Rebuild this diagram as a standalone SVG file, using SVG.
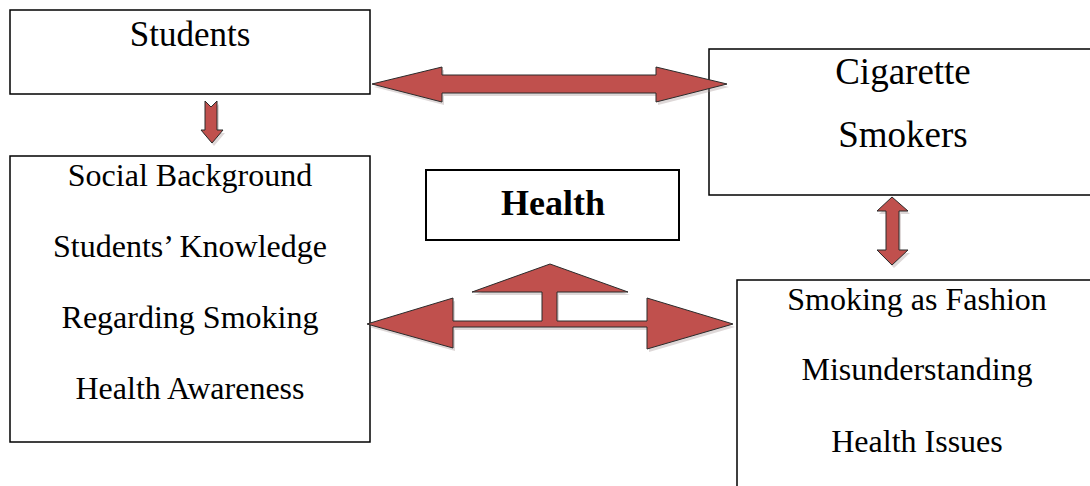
<svg xmlns="http://www.w3.org/2000/svg" width="1090" height="486" viewBox="0 0 1090 486">
<style>
.box{fill:#fff;stroke:#000;stroke-width:1.5}
.arrow{fill:#c0504d;stroke:#2b2b2b;stroke-width:1}
.shadow{fill:#a09090;opacity:0.35;stroke:none}
text{font-family:'Times New Roman','Liberation Serif',Tinos,serif;fill:#000;text-anchor:middle}
</style>
<defs>
<path id="a1" d="M372,84 L442,67 L442,75 L656,75 L656,67 L727,84 L656,102 L656,93 L442,93 L442,102 Z"/>
<path id="a2" d="M205,101 L211,107 L217,101 L217,130 L223,130 L212,143 L201,130 L205,130 Z"/>
<path id="a3" d="M892,197 L908,211 L899,211 L899,250 L908,250 L892,265 L877,250 L886,250 L886,211 L877,211 Z"/>
<path id="a4" d="M367,324 L453,298 L453,321 L542,321 L542,292 L472,292 L550,264 L628,292 L557,292 L557,321 L647,321 L647,298 L733,324 L647,349 L647,327 L453,327 L453,348 Z"/>
</defs>
<rect width="1090" height="486" fill="#fff"/>
<g id="students">
<rect class="box" x="10" y="10" width="360" height="84"/>
<text x="190" y="46" font-size="35">Students</text>
</g>
<g id="cigarette">
<rect class="box" x="709" y="49" width="390" height="146"/>
<text x="903" y="84" font-size="37">Cigarette</text>
<text x="903" y="147" font-size="37">Smokers</text>
</g>
<g id="social">
<rect class="box" x="10" y="156" width="360" height="286"/>
<text x="190" y="186" font-size="32">Social Background</text>
<text x="190" y="257" font-size="32">Students’ Knowledge</text>
<text x="190" y="328" font-size="32">Regarding Smoking</text>
<text x="190" y="399" font-size="32">Health Awareness</text>
</g>
<g id="health">
<rect x="426" y="170" width="253" height="70" fill="#fff" stroke="#000" stroke-width="2"/>
<text x="553" y="215" font-size="36" font-weight="bold">Health</text>
</g>
<g id="fashion">
<rect class="box" x="737" y="280" width="370" height="230"/>
<text x="917" y="310" font-size="32">Smoking as Fashion</text>
<text x="917" y="380" font-size="32">Misunderstanding</text>
<text x="917" y="452" font-size="32">Health Issues</text>
</g>
<g id="connectors">
<use href="#a1" class="shadow" transform="translate(2,3)"/>
<use href="#a2" class="shadow" transform="translate(2,3)"/>
<use href="#a3" class="shadow" transform="translate(2,3)"/>
<use href="#a4" class="shadow" transform="translate(2,3)"/>
<use href="#a1" class="arrow"/>
<use href="#a2" class="arrow"/>
<use href="#a3" class="arrow"/>
<use href="#a4" class="arrow"/>
</g>
</svg>
